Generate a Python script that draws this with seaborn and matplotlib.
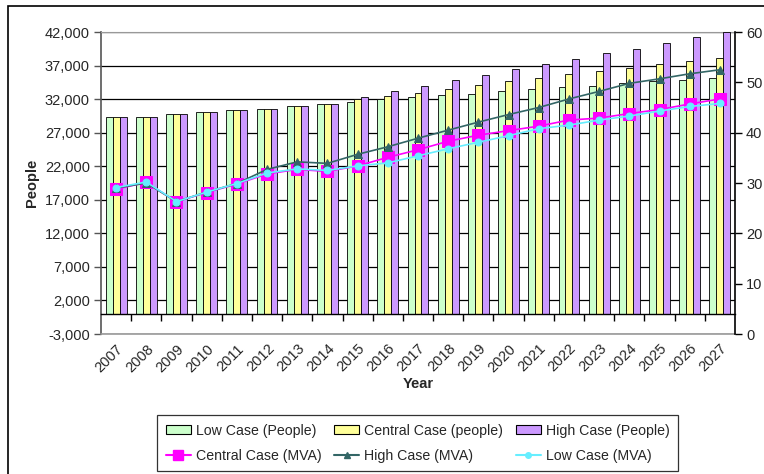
#IMPORTING NECESSARY LIBRARIES
import matplotlib
matplotlib.use('Agg')
import matplotlib.pyplot as plt
from matplotlib.patches import Rectangle, Patch
from matplotlib.lines import Line2D
from matplotlib.ticker import FuncFormatter
import numpy as np
import pandas as pd
import seaborn as sns

#DATA
years = [str(y) for y in range(2007, 2028)]
low_people = [29400, 29400, 29750, 30050, 30450, 30600, 30950, 31250, 31600, 32000, 32300,
              32630, 32780, 33180, 33480, 33820, 34020, 34370, 34670, 34820, 35170]
central_people = [29400, 29400, 29750, 30050, 30450, 30600, 30950, 31250, 32000, 32450, 32980,
                  33480, 34170, 34670, 35170, 35720, 36210, 36700, 37200, 37700, 38100]
high_people = [29400, 29400, 29750, 30050, 30450, 30600, 30950, 31250, 32300, 33200, 33970,
               34820, 35660, 36510, 37200, 38040, 38890, 39540, 40430, 41320, 41980]
central_mva = [28.8, 30.1, 26.3, 28.1, 29.8, 31.8, 32.7, 32.3, 33.4, 35.1, 36.6,
               38.3, 39.5, 40.4, 41.3, 42.5, 42.9, 43.8, 44.6, 45.7, 46.7]
high_mva = [29.0, 30.0, 26.3, 28.2, 29.9, 32.7, 34.2, 33.9, 35.7, 37.2, 38.9,
            40.5, 42.1, 43.6, 45.0, 46.7, 48.2, 49.8, 50.7, 51.7, 52.5]
low_mva = [29.1, 30.2, 26.3, 28.2, 29.9, 32.0, 32.8, 32.5, 33.4, 34.0, 35.4,
           36.8, 38.1, 39.4, 40.8, 41.5, 42.5, 43.3, 44.3, 45.2, 45.8]
bar_cases = ['Low Case (People)', 'Central Case (people)', 'High Case (People)']

#STYLE
sns.set_style('white')
plt.rcParams['font.family'] = ['Liberation Sans', 'DejaVu Sans']
plt.rcParams['font.size'] = 10

bar_colors = ['#CCFFCC', '#FFFF99', '#CC99FF']
col_central = '#FF00FF'
col_high = '#336666'
col_low = '#66EEFF'

#LONG TABLE FOR THE BARS
df = pd.DataFrame({
    'Year': years * 3,
    'People': low_people + central_people + high_people,
    'Case': [bar_cases[0]] * len(years) + [bar_cases[1]] * len(years) + [bar_cases[2]] * len(years),
})

fig = plt.figure(figsize=(7.64, 4.74), dpi=100)
ax = fig.add_axes([101 / 764, 1 - 334 / 474, 634 / 764, 302 / 474])

sns.barplot(data=df, x='Year', y='People', hue='Case', palette=bar_colors, saturation=1,
            width=0.69, edgecolor='black', linewidth=0.6, ax=ax, legend=False, zorder=3)

ax.set_ylim(-3000, 42000)
ax.set_xlim(-0.5, len(years) - 0.5)
ax.set_yticks(np.arange(-3000, 42001, 5000))
ax.yaxis.set_major_formatter(FuncFormatter(lambda v, p: f'{int(v):,}'))
ax.yaxis.grid(True, color='black', linewidth=0.9, zorder=0)
ax.set_axisbelow(True)
ax.tick_params(axis='y', direction='out', length=5, width=1, color='#555555', pad=3, labelsize=10.5)

#X AXIS SITS ON THE ZERO LINE, TICKS BETWEEN GROUPS
ax.spines['bottom'].set_position(('data', 0))
ax.spines['bottom'].set_color('black')
ax.spines['bottom'].set_linewidth(1.0)
ax.spines['bottom'].set_zorder(4)
ax.set_xticks(np.arange(len(years)))
ax.set_xticklabels(years, rotation=45, ha='right', rotation_mode='anchor', fontsize=10.5)
ax.set_xticks(np.arange(len(years) - 1) + 0.5, minor=True)
ax.tick_params(axis='x', which='major', length=0, pad=20)
ax.tick_params(axis='x', which='minor', direction='out', length=5, width=1, color='black', bottom=True)
ax.axhline(-3000, color='#999999', linewidth=1.2, clip_on=False, zorder=5)
ax.spines['left'].set_color('#555555')
ax.spines['left'].set_linewidth(1.2)
ax.spines['top'].set_color('#999999')
ax.spines['right'].set_visible(False)

ax.set_xlabel('Year', fontweight='bold', fontsize=10.5, labelpad=2)
ax.set_ylabel('People', fontweight='bold', fontsize=10.5, labelpad=4)

#MVA LINES ON THE RIGHT AXIS
ax2 = ax.twinx()
idx = np.arange(len(years))
sns.lineplot(x=idx, y=central_mva, ax=ax2, color=col_central, marker='s', markersize=8,
             markeredgecolor=col_central, linewidth=1.2)
sns.lineplot(x=idx, y=high_mva, ax=ax2, color=col_high, marker='^', markersize=6,
             markeredgecolor=col_high, linewidth=1.2)
sns.lineplot(x=idx, y=low_mva, ax=ax2, color=col_low, marker='o', markersize=5,
             markeredgecolor=col_low, linewidth=1.2)
ax2.set_ylim(0, 60)
ax2.set_yticks(np.arange(0, 61, 10))
ax2.tick_params(axis='y', direction='out', length=5, width=1, color='black', labelsize=10.5, pad=3)
ax2.spines['right'].set_color('black')
ax2.spines['right'].set_linewidth(1.2)
for s in ['left', 'top', 'bottom']:
    ax2.spines[s].set_visible(False)
ax2.set_xlim(-0.5, len(years) - 0.5)
ax2.grid(False)

#LEGEND
def patch(c, label):
    return Patch(facecolor=c, edgecolor='black', linewidth=0.8, label=label)

h_low_p = patch(bar_colors[0], bar_cases[0])
h_cen_p = patch(bar_colors[1], bar_cases[1])
h_high_p = patch(bar_colors[2], bar_cases[2])
h_cen_m = Line2D([], [], color=col_central, marker='s', markersize=7, label='Central Case (MVA)')
h_high_m = Line2D([], [], color=col_high, marker='^', markersize=5, label='High Case (MVA)')
h_low_m = Line2D([], [], color=col_low, marker='o', markersize=4, label='Low Case (MVA)')
leg = fig.legend(handles=[h_low_p, h_cen_m, h_cen_p, h_high_m, h_high_p, h_low_m],
                 ncol=3, loc='upper left', bbox_to_anchor=(157 / 764, 1 - 415 / 474, 521 / 764, 0.0),
                 mode='expand', fancybox=False, edgecolor='black', fontsize=10.2,
                 handlelength=1.8, handleheight=0.62, handletextpad=0.33, columnspacing=1.2,
                 borderpad=0.6, labelspacing=0.8, borderaxespad=0)
leg.get_frame().set_linewidth(0.9)

#OUTER FRAME OF THE CHART AREA
fig.add_artist(Rectangle((8 / 764, -0.5), 1.2, 1.5 - 6 / 474, transform=fig.transFigure,
                         fill=False, edgecolor='black', linewidth=1.2, clip_on=False))

fig.savefig('out.png', dpi=100)
